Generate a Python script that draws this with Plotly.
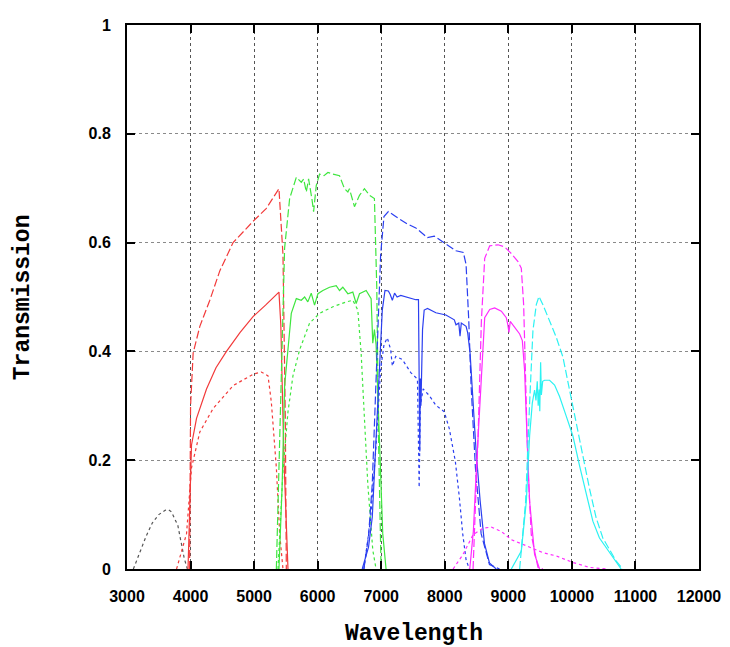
import plotly.graph_objects as go

# ---- data (wavelength in Angstrom, transmission) ----
gray_dash_wl = [3100, 3200, 3300, 3400, 3500, 3600, 3650, 3700, 3800, 3850, 3900, 3950]
gray_dash_t = [0.0, 0.03, 0.06, 0.085, 0.10, 0.108, 0.109, 0.105, 0.08, 0.05, 0.02, 0.0]

red_solid_wl = [3960, 3985, 4015, 4094, 4251, 4400, 4565, 4780, 4983, 5180, 5350, 5391, 5420, 5470, 5533]
red_solid_t = [0.0, 0.12, 0.228, 0.277, 0.331, 0.37, 0.40, 0.435, 0.464, 0.485, 0.503, 0.509, 0.45, 0.2, 0.0]

red_dash_wl = [3985, 4000, 4041, 4146, 4303, 4460, 4669, 4983, 5193, 5391, 5454, 5491, 5507]
red_dash_t = [0.0, 0.30, 0.397, 0.446, 0.494, 0.548, 0.60, 0.639, 0.663, 0.699, 0.578, 0.277, 0.0]

red_dot_wl = [3780, 3937, 4015, 4146, 4355, 4669, 4983, 5114, 5219, 5271, 5350, 5402, 5454]
red_dot_t = [0.0, 0.065, 0.186, 0.252, 0.295, 0.337, 0.358, 0.362, 0.355, 0.307, 0.186, 0.065, 0.0]

green_solid_wl = [5391, 5440, 5480, 5533, 5585, 5664, 5742, 5795, 5845, 5899, 5951, 6004, 6082, 6187, 6292,
                  6344, 6396, 6475, 6553, 6606, 6658, 6763, 6841, 6867, 6893, 6919, 6972, 7024, 7076]
green_solid_t = [0.0, 0.15, 0.337, 0.403, 0.47, 0.497, 0.494, 0.50, 0.491, 0.507, 0.485, 0.506, 0.512, 0.518, 0.521,
                 0.512, 0.518, 0.506, 0.509, 0.488, 0.506, 0.512, 0.497, 0.415, 0.44, 0.413, 0.216, 0.065, 0.0]

green_dash_wl = [5350, 5420, 5480, 5559, 5664, 5742, 5780, 5821, 5857, 5910, 5936, 5978, 6030, 6100, 6161,
                 6239, 6344, 6422, 6475, 6500, 6579, 6658, 6736, 6815, 6893, 6930, 6961, 6998]
green_dash_t = [0.0, 0.3, 0.59, 0.681, 0.72, 0.711, 0.717, 0.693, 0.717, 0.68, 0.657, 0.705, 0.726, 0.723, 0.729,
                0.726, 0.723, 0.699, 0.693, 0.699, 0.666, 0.687, 0.699, 0.687, 0.681, 0.518, 0.216, 0.0]

green_dot_wl = [5376, 5454, 5533, 5611, 5716, 5873, 6030, 6239, 6449, 6553, 6632, 6684, 6736, 6789, 6867, 6919]
green_dot_t = [0.0, 0.18, 0.289, 0.355, 0.403, 0.452, 0.47, 0.482, 0.491, 0.494, 0.476, 0.397, 0.277, 0.156, 0.035, 0.0]

blue_solid_wl = [6701, 6800, 6859, 6938, 6991, 7017, 7059, 7112, 7140, 7175, 7210, 7250, 7307, 7412, 7544, 7586,
                 7597, 7607, 7615, 7625, 7650, 7676, 7728, 7860, 8018, 8150, 8176, 8220, 8240, 8260, 8335, 8361,
                 8398, 8440, 8493, 8556, 8624, 8703, 8809]
blue_solid_t = [0.0, 0.04, 0.095, 0.277, 0.397, 0.476, 0.512, 0.511, 0.505, 0.494, 0.507, 0.500, 0.503, 0.499, 0.495, 0.495,
                0.40, 0.216, 0.35, 0.30, 0.44, 0.476, 0.479, 0.471, 0.467, 0.458, 0.449, 0.452, 0.428, 0.452, 0.446, 0.434,
                0.397, 0.307, 0.216, 0.126, 0.047, 0.011, 0.0]

blue_dash_wl = [6727, 6800, 6859, 6938, 6991, 7043, 7112, 7228, 7386, 7544, 7728, 7834, 8018, 8176, 8292, 8335,
                8377, 8414, 8482, 8572, 8703, 8862]
blue_dash_t = [0.0, 0.06, 0.156, 0.397, 0.578, 0.648, 0.657, 0.648, 0.636, 0.627, 0.609, 0.612, 0.597, 0.585, 0.582, 0.56,
               0.458, 0.337, 0.186, 0.065, 0.008, 0.0]

blue_dot_wl = [6727, 6830, 6912, 6991, 7043, 7096, 7149, 7175, 7228, 7333, 7465, 7570, 7597, 7615, 7660, 7755,
               7860, 7992, 8071, 8166, 8229, 8282, 8335, 8387]
blue_dot_t = [0.0, 0.09, 0.216, 0.367, 0.412, 0.425, 0.403, 0.373, 0.391, 0.385, 0.361, 0.349, 0.15, 0.30, 0.331, 0.319,
              0.301, 0.289, 0.258, 0.198, 0.132, 0.065, 0.017, 0.0]

magenta_solid_wl = [8393, 8450, 8497, 8576, 8628, 8707, 8785, 8890, 8968, 8990, 9010, 9030, 9099, 9178, 9220, 9256,
                    9293, 9335, 9413, 9492]
magenta_solid_t = [0.0, 0.07, 0.184, 0.365, 0.462, 0.477, 0.48, 0.474, 0.462, 0.45, 0.435, 0.455, 0.444, 0.432, 0.42, 0.365,
                   0.245, 0.124, 0.027, 0.0]

magenta_dash_wl = [8445, 8524, 8576, 8628, 8707, 8838, 8942, 9047, 9152, 9204, 9241, 9272, 9309, 9361, 9466, 9544]
magenta_dash_t = [0.0, 0.245, 0.456, 0.571, 0.594, 0.596, 0.592, 0.58, 0.565, 0.553, 0.486, 0.365, 0.184, 0.063, 0.003, 0.0]

magenta_dot_wl = [8131, 8288, 8445, 8602, 8733, 8890, 9047, 9283, 9544, 9754, 10015, 10277, 10539]
magenta_dot_t = [0.0, 0.027, 0.063, 0.075, 0.077, 0.069, 0.054, 0.042, 0.03, 0.024, 0.012, 0.003, 0.0]

cyan_solid_wl = [9047, 9204, 9283, 9335, 9377, 9413, 9435, 9455, 9470, 9485, 9495, 9508, 9520, 9540, 9570, 9649,
                 9728, 9806, 9911, 10015, 10120, 10225, 10330, 10434, 10539, 10618, 10696, 10775]
cyan_solid_t = [0.0, 0.033, 0.124, 0.245, 0.305, 0.329, 0.31, 0.345, 0.30, 0.33, 0.29, 0.38, 0.32, 0.345, 0.347, 0.347,
                0.338, 0.317, 0.281, 0.245, 0.19, 0.136, 0.088, 0.057, 0.039, 0.027, 0.012, 0.0]

cyan_dash_wl = [9178, 9272, 9335, 9387, 9440, 9482, 9544, 9649, 9754, 9858, 9963, 10068, 10172, 10277, 10382,
                10487, 10591, 10696, 10801]
cyan_dash_t = [0.0, 0.124, 0.305, 0.438, 0.486, 0.501, 0.486, 0.456, 0.426, 0.39, 0.329, 0.275, 0.208, 0.148, 0.094,
               0.057, 0.036, 0.015, 0.0]

x_ticks = [3000, 4000, 5000, 6000, 7000, 8000, 9000, 10000, 11000, 12000]
y_ticks = [0, 0.2, 0.4, 0.6, 0.8, 1]
y_tick_labels = ["0", "0.2", "0.4", "0.6", "0.8", "1"]

# ---- styles ----
LONG = "8px,3px"
SHORT = "3px,3px"
RED = "#f23a3a"
GREEN = "#3fe63f"
BLUE = "#2b3ff0"
MAGENTA = "#ff2bff"
CYAN = "#2cf2f2"
GRAY = "#555555"

series = [
    (gray_dash_wl, gray_dash_t, GRAY, SHORT),
    (red_dot_wl, red_dot_t, RED, SHORT),
    (red_dash_wl, red_dash_t, RED, LONG),
    (red_solid_wl, red_solid_t, RED, "solid"),
    (green_dot_wl, green_dot_t, GREEN, SHORT),
    (green_dash_wl, green_dash_t, GREEN, LONG),
    (green_solid_wl, green_solid_t, GREEN, "solid"),
    (blue_dot_wl, blue_dot_t, BLUE, SHORT),
    (blue_dash_wl, blue_dash_t, BLUE, LONG),
    (blue_solid_wl, blue_solid_t, BLUE, "solid"),
    (magenta_dot_wl, magenta_dot_t, MAGENTA, SHORT),
    (magenta_dash_wl, magenta_dash_t, MAGENTA, LONG),
    (magenta_solid_wl, magenta_solid_t, MAGENTA, "solid"),
    (cyan_dash_wl, cyan_dash_t, CYAN, LONG),
    (cyan_solid_wl, cyan_solid_t, CYAN, "solid"),
]

fig = go.Figure()
for wl, t, color, dash in series:
    fig.add_trace(go.Scatter(x=wl, y=t, mode="lines",
                             line=dict(color=color, width=1.2, dash=dash),
                             showlegend=False, hoverinfo="skip"))

tickfont = dict(family="Liberation Sans, Arial, sans-serif", size=16, color="black", weight="bold")
titlefont = dict(family="Liberation Mono, Courier New, monospace", size=23, color="black")

# page body has an 8px default margin, so the figure is sized to fit the 730x647 window
fig.update_layout(
    width=722, height=639,
    margin=dict(l=119, r=30, t=9, b=78),
    paper_bgcolor="white", plot_bgcolor="white",
    showlegend=False,
    xaxis=dict(range=[3000, 12000], tickvals=x_ticks, ticktext=[str(v) for v in x_ticks],
               showgrid=True, gridcolor="#555555", griddash="dot", gridwidth=1,
               showline=True, linecolor="black", linewidth=2, mirror="ticks",
               ticks="inside", ticklen=8, tickwidth=2, tickcolor="black",
               tickfont=tickfont, ticklabelstandoff=12, zeroline=False),
    yaxis=dict(range=[0, 1], tickvals=y_ticks, ticktext=y_tick_labels,
               showgrid=True, gridcolor="#8a8a8a", griddash="dot", gridwidth=1,
               showline=True, linecolor="black", linewidth=2, mirror="ticks",
               ticks="inside", ticklen=8, tickwidth=2, tickcolor="black",
               tickfont=tickfont, ticklabelstandoff=11, zeroline=False),
    annotations=[
        dict(text="<b>Wavelength</b>", x=0.501, y=-0.1196, xref="paper", yref="paper",
             xanchor="center", yanchor="middle", showarrow=False, font=titlefont),
        dict(text="<b>Transmission</b>", x=-0.1815, y=0.5, xref="paper", yref="paper",
             xanchor="center", yanchor="middle", showarrow=False, textangle=-90, font=titlefont),
    ],
)

fig.write_html("out.html")
